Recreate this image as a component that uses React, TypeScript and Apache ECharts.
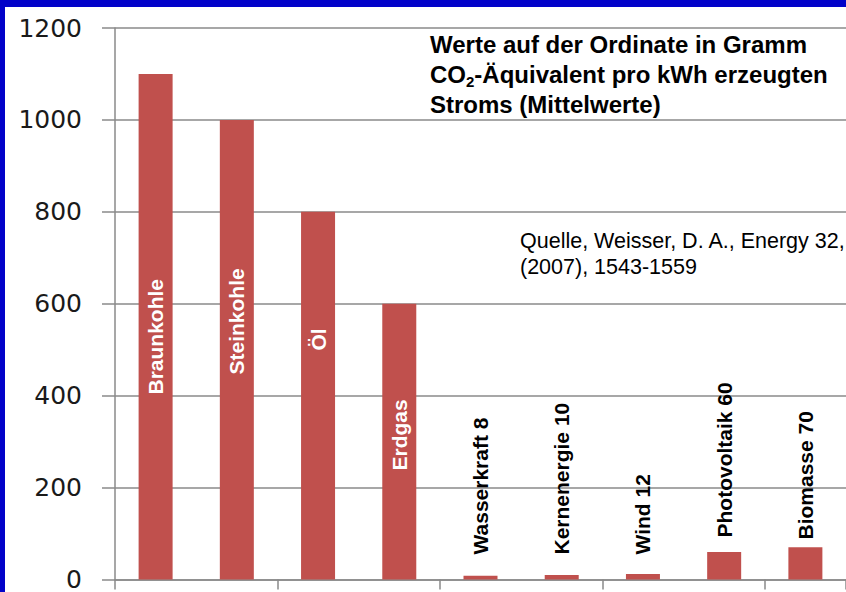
import React, { useEffect, useRef } from "react";
import * as echarts from "echarts";

// ---- data ----
const categoryNames = [
  "Braunkohle",
  "Steinkohle",
  "Öl",
  "Erdgas",
  "Wasserkraft",
  "Kernenergie",
  "Wind",
  "Photovoltaik",
  "Biomasse",
];
const co2Values = [1100, 1000, 800, 600, 8, 10, 12, 60, 70];
const showValueInLabel = [false, false, false, false, true, true, true, true, true];
const yTicks = { min: 0, max: 1200, step: 200 };

const titleLine1 = "Werte auf der Ordinate in Gramm";
const titleLine2Parts = ["CO", "2", "-Äquivalent pro kWh erzeugten"];
const titleLine3 = "Stroms (Mittelwerte)";
const sourceLines = ["Quelle, Weisser, D. A., Energy 32,", "(2007), 1543-1559"];

// ---- label placement (style, not data) ----
const labelLift = [185, 205, 229, 109, 25, 25, 25, 42, 40];
const insideLabelCount = 4;

const BAR = "#c0504d";
const GRID = "#8a8a8a";
const BLUE = "#0202c9";
const ARIAL = "'Liberation Sans', Arial, sans-serif";
const TITLE_FONT = `bold 24px ${ARIAL}`;
const SUB_FONT = `bold 15px ${ARIAL}`;

function measure(text: string, font: string): number {
  const c = document.createElement("canvas").getContext("2d");
  if (!c) return text.length * 12;
  c.font = font;
  return c.measureText(text).width;
}

function txt(x: number, y: number, text: string, font: string) {
  return {
    type: "text",
    x,
    y,
    style: {
      text,
      font,
      fill: "#000",
      align: "left",
      verticalAlign: "middle",
      textAlign: "left",
      textVerticalAlign: "middle",
    },
  };
}

export default function App() {
  const ref = useRef<HTMLDivElement>(null);

  useEffect(() => {
    if (!ref.current) return;
    const chart = echarts.init(ref.current, undefined, { renderer: "svg" });

    const data = co2Values.map((v, i) => ({
      value: v,
      label: {
        show: true,
        position: "insideBottom",
        distance: labelLift[i],
        rotate: 90,
        align: "left",
        verticalAlign: "middle",
        fontFamily: ARIAL,
        fontWeight: "bold",
        fontSize: 21,
        color: i < insideLabelCount ? "#ffffff" : "#000000",
        formatter: () =>
          showValueInLabel[i] ? `${categoryNames[i]} ${co2Values[i]}` : categoryNames[i],
      },
    }));

    const titleX = 430;
    const coW = measure(titleLine2Parts[0], TITLE_FONT);
    const subW = measure(titleLine2Parts[1], SUB_FONT);

    chart.setOption({
      animation: false,
      backgroundColor: "#ffffff",
      grid: { left: 115, top: 28, width: 738, height: 554, containLabel: false },
      xAxis: {
        type: "category",
        data: categoryNames,
        axisLine: { show: true, lineStyle: { color: GRID, width: 1.5 } },
        axisTick: { show: true, alignWithLabel: false, length: 10, lineStyle: { color: GRID, width: 1.5 } },
        axisLabel: { show: false },
        splitLine: { show: false },
      },
      yAxis: {
        type: "value",
        min: yTicks.min,
        max: yTicks.max,
        interval: yTicks.step,
        axisLine: { show: true, lineStyle: { color: GRID, width: 1.5 } },
        axisTick: { show: true, length: 13, lineStyle: { color: GRID, width: 1.5 } },
        axisLabel: {
          margin: 33,
          fontFamily: "'DejaVu Sans', Verdana, sans-serif",
          fontSize: 25,
          color: "#1a1a1a",
          formatter: (v: number) => String(v),
        },
        splitLine: { show: true, lineStyle: { color: GRID, width: 1.5 } },
      },
      series: [
        {
          type: "bar",
          data,
          barWidth: 34,
          itemStyle: { color: BAR },
        },
      ],
      graphic: [
        { type: "rect", shape: { x: 0, y: 0, width: 846, height: 7 }, style: { fill: BLUE }, silent: true },
        { type: "rect", shape: { x: 0, y: 0, width: 5, height: 592 }, style: { fill: BLUE }, silent: true },
        txt(titleX, 44, titleLine1, TITLE_FONT),
        txt(titleX, 74, titleLine2Parts[0], TITLE_FONT),
        txt(titleX + coW, 81, titleLine2Parts[1], SUB_FONT),
        txt(titleX + coW + subW, 74, titleLine2Parts[2], TITLE_FONT),
        txt(titleX, 104, titleLine3, TITLE_FONT),
        ...sourceLines.map((t, i) => txt(520, 241 + i * 26, t, `21.5px ${ARIAL}`)),
      ],
    });

    return () => chart.dispose();
  }, []);

  return (
    <div
      ref={ref}
      style={{ position: "fixed", left: 0, top: 0, width: 846, height: 592, background: "#fff" }}
    />
  );
}
